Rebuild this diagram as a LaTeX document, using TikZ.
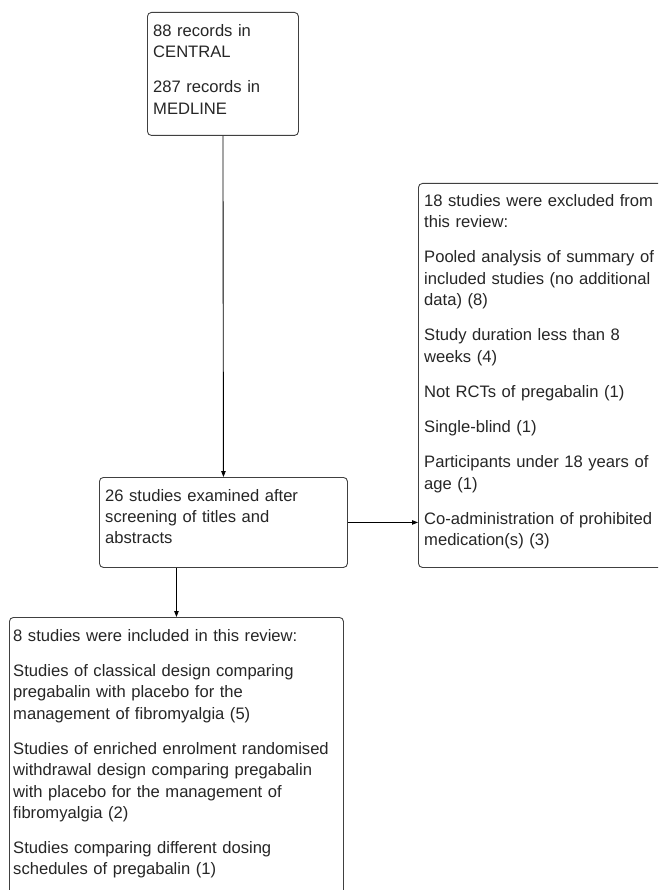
\documentclass[tikz,border=0pt]{standalone}
\usepackage{fontspec}
\setmainfont{Liberation Sans}
\usetikzlibrary{positioning,arrows.meta}

\begin{document}
\begin{tikzpicture}[x=1pt,y=-1pt,
  flowbox/.style={draw=black!75,line width=0.9pt,rounded corners=4pt,anchor=north west,inner sep=0pt},
  boxtext/.style={anchor=north west,inner sep=0pt,align=left,text=black!85,font=\fontsize{16.6}{21.3}\selectfont},
  link/.style={draw=black,line width=0.9pt,-{Triangle[length=6pt,width=4.5pt]}}]
  \useasboundingbox (0,0) rectangle (658,890);
  \clip (0,0) rectangle (658,890);
  \fill[white] (0,0) rectangle (658,890);
  % boxes
  \node[flowbox,minimum width=151pt,minimum height=123pt] (records) at (147,12) {};
  \node[flowbox,minimum width=248pt,minimum height=90pt] (screen) at (99,477) {};
  \node[flowbox,minimum width=260pt,minimum height=384pt] (excluded) at (418,183) {};
  \node[flowbox,minimum width=334pt,minimum height=300pt] (included) at (9,617) {};
  % texts
  \node[boxtext,text width=140pt] (recordstext) at ([xshift=6pt,yshift=-12pt]records.north west)
    {88 records in\\ CENTRAL\\[14pt] 287 records in\\ MEDLINE};
  \node[boxtext,text width=236pt] (screentext) at ([xshift=6pt,yshift=-12pt]screen.north west)
    {26 studies examined after\\ screening of titles and\\ abstracts};
  \node[boxtext,text width=236pt] (excludedtext) at ([xshift=6pt,yshift=-11pt]excluded.north west)
    {18 studies were excluded from\\ this review:\\[14pt]
     Pooled analysis of summary of\\ included studies (no additional\\ data) (8)\\[14pt]
     Study duration less than 8\\ weeks (4)\\[14pt]
     Not RCTs of pregabalin (1)\\[14pt]
     Single-blind (1)\\[14pt]
     Participants under 18 years of\\ age (1)\\[14pt]
     Co-administration of prohibited\\ medication(s) (3)};
  \node[boxtext,text width=326pt] (includedtext) at ([xshift=4pt,yshift=-12pt]included.north west)
    {8 studies were included in this review:\\[14pt]
     Studies of classical design comparing\\ pregabalin with placebo for the\\ management of fibromyalgia (5)\\[14pt]
     Studies of enriched enrolment randomised\\ withdrawal design comparing pregabalin\\ with placebo for the management of\\ fibromyalgia (2)\\[14pt]
     Studies comparing different dosing\\ schedules of pregabalin (1)};
  % arrows
  \draw[link] (records.south) -- (screen.north);
  \draw[link] (screen.east) -- (screen.east -| excluded.west);
  \draw[link] (screen.south -| included.north) -- (included.north);
\end{tikzpicture}
\end{document}
